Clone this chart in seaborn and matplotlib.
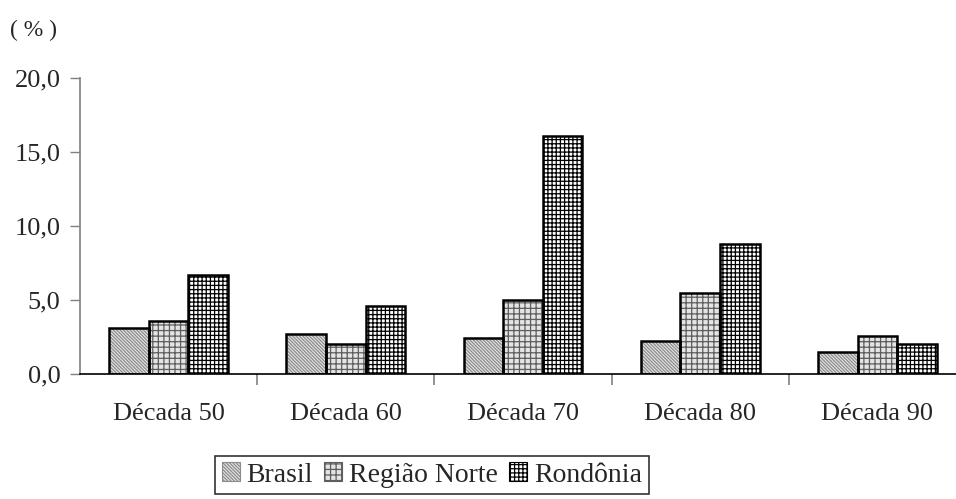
import matplotlib
matplotlib.use('Agg')
import matplotlib.pyplot as plt
import numpy as np
import pandas as pd
import seaborn as sns
from matplotlib.patches import Rectangle, Patch
from matplotlib.ticker import FuncFormatter, FixedLocator

decadas = ['Década 50', 'Década 60', 'Década 70', 'Década 80', 'Década 90']
regioes = ['Brasil', 'Região Norte', 'Rondônia']
brasil = [3.1, 2.7, 2.4, 2.2, 1.5]
regiao_norte = [3.6, 2.0, 5.0, 5.5, 2.6]
rondonia = [6.7, 4.6, 16.1, 8.8, 2.0]

df = pd.DataFrame({
    'decada': decadas * 3,
    'regiao': [r for r in regioes for _ in decadas],
    'valor': brasil + regiao_norte + rondonia,
})

sns.set_style('white')
plt.rcParams['font.family'] = ['Liberation Serif', 'DejaVu Serif']
plt.rcParams['hatch.linewidth'] = 0.9

faces = {'Brasil': '#e6e6e6', 'Região Norte': '#e4e4e4', 'Rondônia': 'white'}
hatch_col = {'Brasil': '#8c8c8c', 'Região Norte': '#5e5e5e', 'Rondônia': 'black'}
hatches = {'Brasil': '\\' * 10, 'Região Norte': '+++', 'Rondônia': '++++'}

fig = plt.figure(figsize=(9.56, 4.99), dpi=100)
ax = fig.add_axes([80/956, 125/499, 886/956, 296/499])
sns.barplot(data=df, x='decada', y='valor', hue='regiao', order=decadas, hue_order=regioes,
            palette=faces, width=0.67, gap=0, ax=ax, legend=False, errorbar=None)

# bars come in hue order: 5 per region
for i, p in enumerate(ax.patches):
    reg = regioes[i // len(decadas)]
    p.set_hatch(hatches[reg])
    p.set_edgecolor(hatch_col[reg])
    p.set_linewidth(0)
    ax.add_patch(Rectangle(p.get_xy(), p.get_width(), p.get_height(), fill=False,
                           edgecolor='black', linewidth=1.8, zorder=3))

ax.set_xlim(-0.5, 4.5)
ax.set_ylim(0, 20)
ax.set_yticks([0, 5, 10, 15, 20])
ax.yaxis.set_major_formatter(FuncFormatter(lambda v, _: f'{v:.1f}'.replace('.', ',')))
ax.xaxis.set_minor_locator(FixedLocator([0.5, 1.5, 2.5, 3.5]))
ax.tick_params(axis='x', which='major', length=0, pad=21, labelsize=19)
ax.tick_params(axis='x', which='minor', length=8, width=1.2, color='#808080', direction='out', bottom=True)
ax.tick_params(axis='y', length=7, width=1, color='#808080', direction='out', left=True, pad=7, labelsize=19)
ax.set_xlabel('')
ax.set_ylabel('')
for s in ['top', 'right']:
    ax.spines[s].set_visible(False)
ax.spines['left'].set_color('#808080')
ax.spines['left'].set_linewidth(1.2)
ax.spines['bottom'].set_color('black')
ax.spines['bottom'].set_linewidth(1.2)

fig.text(10/956, 1 - 30/499, '( % )', fontsize=17, va='center', ha='left')

handles = [Patch(facecolor=faces[r], edgecolor=hatch_col[r], hatch=hatches[r], linewidth=0.8) for r in regioes]
leg = fig.legend(handles, regioes, loc='center', bbox_to_anchor=(432/956, 24/499), ncol=3,
                 fontsize=20, frameon=True, fancybox=False, handlelength=0.65, handleheight=0.65,
                 handletextpad=0.25, columnspacing=0.4, borderpad=0.25, borderaxespad=0, edgecolor='black')
leg.get_frame().set_linewidth(1.2)

fig.savefig('out.png', dpi=100)
